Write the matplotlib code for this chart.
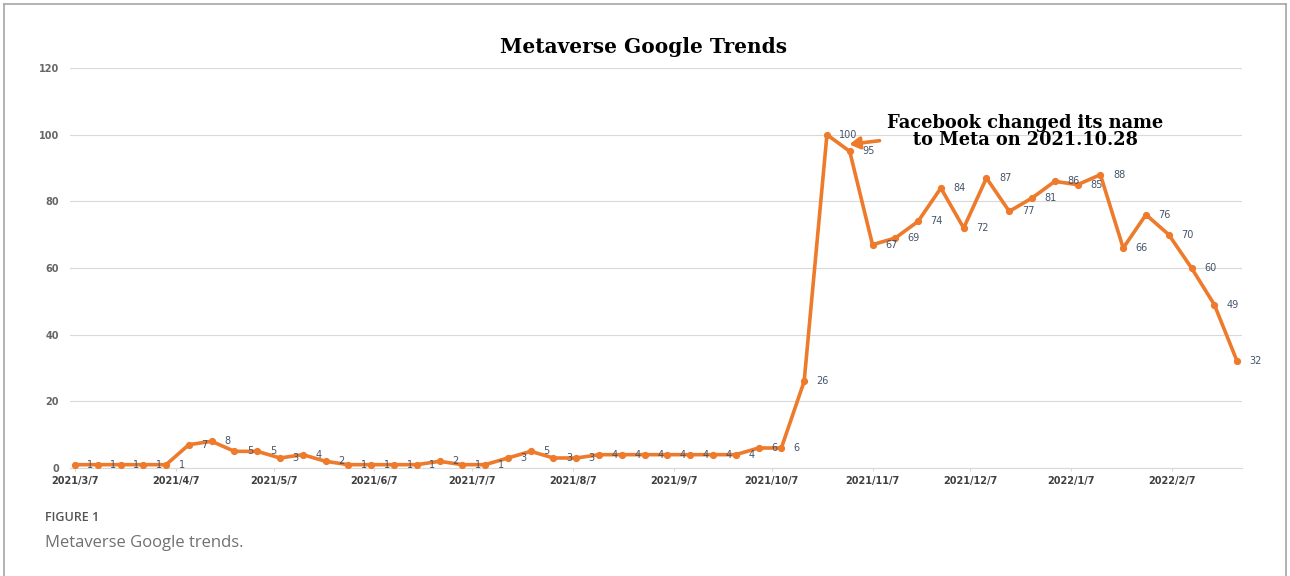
import numpy as np
import pandas as pd
import matplotlib
matplotlib.use("Agg")
import matplotlib.pyplot as plt
from matplotlib.lines import Line2D

# weekly Google Trends index for "metaverse"
start_week = "2021-03-07"
trend = [1, 1, 1, 1, 1, 7, 8, 5, 5, 3, 4, 2, 1, 1, 1, 1, 2, 1, 1, 3,
         5, 3, 3, 4, 4, 4, 4, 4, 4, 4, 6, 6, 26, 100, 95, 67, 69, 74, 84, 72,
         87, 77, 81, 86, 85, 88, 66, 76, 70, 60, 49, 32]
tick_dates = ["2021-03-07", "2021-04-07", "2021-05-07", "2021-06-07", "2021-07-07",
              "2021-08-07", "2021-09-07", "2021-10-07", "2021-11-07", "2021-12-07",
              "2022-01-07", "2022-02-07"]
tick_labels = ["2021/3/7", "2021/4/7", "2021/5/7", "2021/6/7", "2021/7/7", "2021/8/7",
               "2021/9/7", "2021/10/7", "2021/11/7", "2021/12/7", "2022/1/7", "2022/2/7"]
y_ticks = [0, 20, 40, 60, 80, 100, 120]
rename_week = "2021-10-31"  # point nearest to 2021.10.28 (value 95)

weeks = pd.date_range(start_week, periods=len(trend), freq="7D")
ORANGE = "#EE7A2B"

fig = plt.figure(figsize=(12.9, 5.76), dpi=100)
ax = fig.add_axes([0.0543, 0.1875, 0.9085, 0.6944])

ax.plot(weeks, trend, color=ORANGE, lw=2.6, marker="o", ms=4.2, zorder=3)
for d, v in zip(weeks, trend):
    ax.annotate(str(v), (d, v), xytext=(9, 0), textcoords="offset points",
                ha="left", va="center", fontsize=7, color="#44546A", zorder=4)

ax.set_xlim(weeks[0] - pd.Timedelta(days=1.5), weeks[-1] + pd.Timedelta(days=1.5))
ax.set_ylim(0, 120)
ax.set_yticks(y_ticks)
ax.set_yticklabels([str(t) for t in y_ticks], fontsize=7, fontweight="bold", color="#666666")
ax.set_xticks(pd.to_datetime(tick_dates))
ax.set_xticklabels(tick_labels, fontsize=7, fontweight="bold", color="#404040")
ax.tick_params(axis="y", length=0, pad=8)
ax.tick_params(axis="x", length=2.5, color="#D9D9D9", pad=3)
ax.grid(axis="y", color="#D9D9D9", lw=0.8)
ax.set_axisbelow(True)
for s in ["top", "right", "left"]:
    ax.spines[s].set_visible(False)
ax.spines["bottom"].set_color("#D9D9D9")

fig.text(0.4985, 0.918, "Metaverse Google Trends", ha="center", va="center",
         fontsize=14.5, fontweight="bold", family="DejaVu Serif")

rd = pd.Timestamp(rename_week)
ax.annotate("", xy=(rd - pd.Timedelta(days=1), 97), xytext=(rd + pd.Timedelta(days=10), 98.3),
            arrowprops=dict(arrowstyle="-|>,head_length=0.6,head_width=0.35", color=ORANGE, lw=2.6))
fig.text(0.795, 0.771, "Facebook changed its name\nto Meta on 2021.10.28", ha="center", va="center",
         fontsize=12.8, fontweight="bold", family="DejaVu Serif", linespacing=0.92)

# caption under the chart
fig.text(0.035, 0.101, "FIGURE 1", fontsize=9, color="#555555", family="Open Sans",
         fontweight="semibold", va="center")
fig.text(0.035, 0.057, "Metaverse Google trends.", fontsize=12, color="#707070",
         family="Open Sans", va="center")

# frame round the figure panel
frame_kw = dict(color="#A6A6A6", lw=1.2, transform=fig.transFigure)
fig.add_artist(Line2D([0.003, 0.997], [0.993, 0.993], **frame_kw))
fig.add_artist(Line2D([0.003, 0.003], [0.0, 0.993], **frame_kw))
fig.add_artist(Line2D([0.997, 0.997], [0.0, 0.993], **frame_kw))

fig.savefig("out.png", dpi=100)
